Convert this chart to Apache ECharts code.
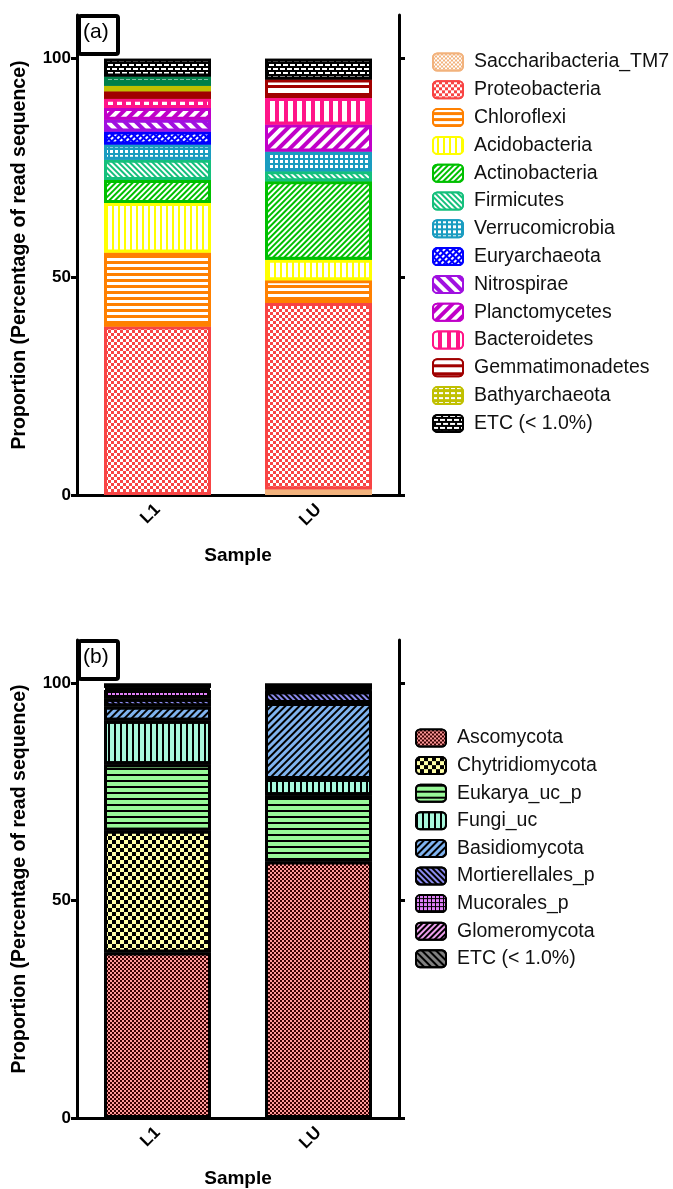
<!DOCTYPE html>
<html><head><meta charset="utf-8">
<script src="https://cdn.jsdelivr.net/npm/echarts@6/dist/echarts.min.js"></script>
<style>html,body{margin:0;padding:0;background:#fff}#c{width:673px;height:1189px}</style>
</head><body><div id="c"></div>
<script>
const samples = ['L1', 'LU'];
const yTicks = [0, 50, 100];

const bacNames = ['Saccharibacteria_TM7','Proteobacteria','Chloroflexi','Acidobacteria','Actinobacteria','Firmicutes','Verrucomicrobia','Euryarchaeota','Nitrospirae','Planctomycetes','Bacteroidetes','Gemmatimonadetes','Bathyarchaeota','Others','ETC (< 1.0%)'];
const bacL1 = [0, 38.6, 17.0, 11.3, 5.3, 4.6, 3.5, 3.0, 2.7, 2.7, 2.1, 1.7, 1.3, 2.1, 4.1];
const bacLU = [1.3, 42.7, 5.2, 4.7, 18.0, 2.3, 4.5, 0, 0, 6.2, 6.1, 4.2, 0, 0, 4.8];
const bacLegend = ['Saccharibacteria_TM7','Proteobacteria','Chloroflexi','Acidobacteria','Actinobacteria','Firmicutes','Verrucomicrobia','Euryarchaeota','Nitrospirae','Planctomycetes','Bacteroidetes','Gemmatimonadetes','Bathyarchaeota','ETC (< 1.0%)'];

const funNames = ['Ascomycota','Chytridiomycota','Eukarya_uc_p','Fungi_uc','Basidiomycota','Mortierellales_p','Mucorales_p','Glomeromycota','ETC (< 1.0%) '];
const funL1 = [38.1, 28.0, 15.3, 10.0, 3.3, 1.8, 2.0, 0.5, 1.0];
const funLU = [59.0, 0, 15.3, 3.7, 17.5, 2.7, 0.3, 0.2, 1.3];

const FWD = -Math.PI / 4;  // "/" stripes
const BWD = Math.PI / 4;   // "\" stripes
const bacStyle = [
  {c:'#f2b27c', d:{dashArrayX:[[2,2],[0,2,2,0]], dashArrayY:[2,0]}},
  {c:'#f84444', d:{dashArrayX:[[3,3],[0,3,3,0]], dashArrayY:[3,0]}},
  {c:'#ff8000', d:{dashArrayX:[1,0], dashArrayY:[3,2.3]}},
  {c:'#ffff00', d:{dashArrayX:[4,2], dashArrayY:[1,0]}},
  {c:'#00c000', d:{dashArrayX:[1,0], dashArrayY:[1.5,1.5], rotation:FWD}},
  {c:'#14c07c', d:{dashArrayX:[1,0], dashArrayY:[1.5,1.5], rotation:BWD}},
  {c:'#1a9cc0', d:{dashArrayX:[3,1.3], dashArrayY:[3,1.3]}},
  {c:'#0000ff', d:{dashArrayX:[3,1.5], dashArrayY:[1.6,2], rotation:FWD}},
  {c:'#a010e0', d:{dashArrayX:[1,0], dashArrayY:[3.5,3.5], rotation:BWD}},
  {c:'#c000c8', d:{dashArrayX:[1,0], dashArrayY:[3.5,3.5], rotation:FWD}},
  {c:'#ff1488', d:{dashArrayX:[4.5,4], dashArrayY:[1,0]}},
  {c:'#a00000', d:{dashArrayX:[1,0], dashArrayY:[5,3]}},
  {c:'#c0c000', d:{dashArrayX:[4,2], dashArrayY:[2,3]}},
  {c:'#00804a', d:{dashArrayX:[4,2], dashArrayY:[1.5,4]}},
  {c:'#000000', d:{dashArrayX:[[5,2],[1,2,4,0]], dashArrayY:[1.5,1.5]}}
];
const funStyle = [
  {c:'#3a0000', d:{color:'#ff9a9a', dashArrayX:[[2,2],[0,2,2,0]], dashArrayY:[2,0]}},
  {c:'#000000', d:{color:'#ffffa8', dashArrayX:[[4,4],[0,4,4,0]], dashArrayY:[4,0]}},
  {c:'#98f898', d:{color:'#000', dashArrayX:[1,0], dashArrayY:[1.5,3.8]}},
  {c:'#a8f8dc', d:{color:'#000', dashArrayX:[1.7,3.6], dashArrayY:[1,0]}},
  {c:'#80b4f0', d:{color:'#000', dashArrayX:[1,0], dashArrayY:[1.2,2.2], rotation:FWD}},
  {c:'#8c8cf0', d:{color:'#000', dashArrayX:[1,0], dashArrayY:[1.5,2], rotation:BWD}},
  {c:'#000000', d:{color:'#e080f8', dashArrayX:[3,1], dashArrayY:[3,1]}},
  {c:'#f0a0f0', d:{color:'#000', dashArrayX:[1,0], dashArrayY:[2,2], rotation:FWD}},
  {c:'#808080', d:{color:'#000', dashArrayX:[1,0], dashArrayY:[2,2.5], rotation:BWD}}
];

const FONT = 'Liberation Sans, Arial, sans-serif';
const nz = v => (v === 0 ? null : v);

function gridAxes(gi) {
  return {
    x: [
      {type:'category', gridIndex:gi, data:samples, position:'bottom',
       axisLine:{lineStyle:{color:'#000', width:3}},
       axisTick:{length:6, lineStyle:{width:3, color:'#000'}, alignWithLabel:true},
       axisLabel:{rotate:45, margin:12, fontSize:17, fontWeight:'bold', color:'#000', fontFamily:FONT},
       name:'Sample', nameLocation:'middle', nameGap:51,
       nameTextStyle:{fontSize:19, fontWeight:'bold', color:'#000', fontFamily:FONT}},
      {type:'category', gridIndex:gi, data:samples, position:'top',
       axisLine:{lineStyle:{color:'#000', width:3}},
       axisTick:{length:6, lineStyle:{width:3, color:'#000'}, alignWithLabel:true},
       axisLabel:{show:false}}
    ],
    y: [
      {type:'value', gridIndex:gi, min:0, max:110, interval:50, position:'left',
       axisLine:{show:true, lineStyle:{color:'#000', width:3}},
       axisTick:{show:true, length:6, lineStyle:{width:3, color:'#000'}, customValues:yTicks},
       axisLabel:{fontSize:17, fontWeight:'bold', color:'#000', fontFamily:FONT, margin:6, customValues:yTicks,
                  formatter: v => (yTicks.indexOf(v) >= 0 ? String(v) : '')},
       splitLine:{show:false},
       name:'Proportion (Percentage of read sequence)', nameLocation:'middle', nameGap:47,
       nameTextStyle:{fontSize:19.5, fontWeight:'bold', color:'#000', fontFamily:FONT}},
      {type:'value', gridIndex:gi, min:0, max:110, interval:50, position:'right',
       axisLine:{show:true, lineStyle:{color:'#000', width:3}},
       axisTick:{show:true, length:6, lineStyle:{width:3, color:'#000'}, customValues:yTicks},
       axisLabel:{show:false}, splitLine:{show:false}}
    ]
  };
}
const a0 = gridAxes(0), a1 = gridAxes(1);

const series = [];
bacNames.forEach((n, i) => {
  const s = bacStyle[i];
  series.push({type:'bar', name:n, stack:'a', xAxisIndex:0, yAxisIndex:0, barWidth:107,
    data:[nz(bacL1[i]), nz(bacLU[i])],
    itemStyle:{color:s.c, borderColor:s.c, borderWidth:3, decal:Object.assign({symbol:'rect', symbolSize:1, color:'#ffffff'}, s.d)}});
});
funNames.forEach((n, i) => {
  const s = funStyle[i];
  series.push({type:'bar', name:n, stack:'b', xAxisIndex:2, yAxisIndex:2, barWidth:107,
    data:[nz(funL1[i]), nz(funLU[i])],
    itemStyle:{color:s.c, borderColor:'#000', borderWidth:3, decal:Object.assign({symbol:'rect', symbolSize:1}, s.d)}});
});

const legendCommon = {orient:'vertical', itemWidth:30, itemHeight:17, selectedMode:false, padding:0,
  textStyle:{fontSize:19.5, lineHeight:18, color:'#111', fontFamily:FONT, padding:[0,0,0,6]}};

function tagBox(label, top) {
  return [
    {type:'rect', left:77, top:top, shape:{width:39, height:38, r:2}, style:{fill:'#fff', stroke:'#000', lineWidth:4}, z:100},
    {type:'text', left:83, top:top + 8, style:{text:label, font:'21px ' + FONT, fill:'#000'}, z:101}
  ];
}

const chart = echarts.init(document.getElementById('c'), null, {renderer:'canvas'});
chart.setOption({
  animation:false,
  backgroundColor:'#fff',
  grid:[{left:77, top:15, width:322, height:480}, {left:77, top:640, width:322, height:480}],
  xAxis:[...a0.x, ...a1.x],
  yAxis:[...a0.y, ...a1.y],
  legend:[
    Object.assign({left:432, top:52, data:bacLegend}, legendCommon, {itemGap:7.8}),
    Object.assign({left:415, top:728, data:funNames}, legendCommon, {itemGap:7.6})
  ],
  graphic:[...tagBox('(a)', 14), ...tagBox('(b)', 639)],
  series:series
});
</script></body></html>
